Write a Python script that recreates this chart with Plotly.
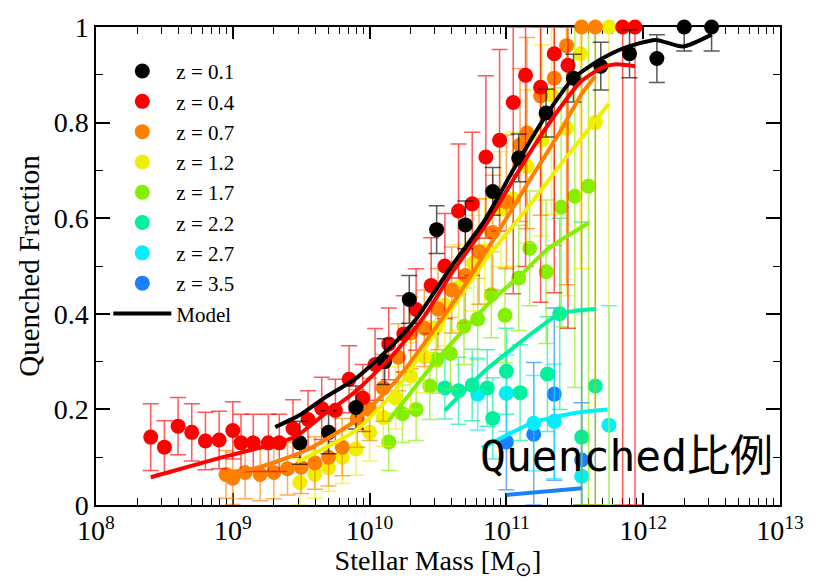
import plotly.graph_objects as go

# ---------------- data (log10 stellar mass, quenched fraction, error) ----------------
z_labels = ["z = 0.1", "z = 0.4", "z = 0.7", "z = 1.2", "z = 1.7", "z = 2.2", "z = 2.7", "z = 3.5"]
colors = ["#000000", "#ff0000", "#ff7f00", "#eef000", "#84f000", "#00f0a0", "#00f0ff", "#1a80ff"]

m_z01 = [9.49, 9.70, 9.90, 10.11, 10.29, 10.49, 10.70, 10.90, 11.09, 11.29, 11.49, 11.69, 11.90, 12.10, 12.30, 12.50]
f_z01 = [0.130, 0.152, 0.204, 0.300, 0.430, 0.576, 0.586, 0.656, 0.726, 0.820, 0.893, 0.918, 0.944, 0.934, 1.0, 1.0]
e_z01 = [0.045, 0.045, 0.045, 0.048, 0.05, 0.05, 0.05, 0.05, 0.05, 0.05, 0.05, 0.05, 0.05, 0.05, 0.05, 0.05]

m_z04 = [8.40, 8.50, 8.60, 8.70, 8.80, 8.90, 9.00, 9.06, 9.15, 9.26, 9.34, 9.44, 9.55, 9.65, 9.75, 9.85, 9.95,
         10.04, 10.14, 10.25, 10.34, 10.45, 10.55, 10.65, 10.75, 10.85, 10.95, 11.05, 11.14, 11.25, 11.35, 11.45,
         11.85, 11.94]
f_z04 = [0.142, 0.121, 0.165, 0.152, 0.134, 0.136, 0.156, 0.130, 0.130, 0.130, 0.130, 0.160, 0.179, 0.202, 0.198,
         0.263, 0.224, 0.294, 0.337, 0.358, 0.409, 0.459, 0.500, 0.615, 0.630, 0.728, 0.763, 0.842, 0.899, 0.874,
         0.944, 0.920, 1.0, 1.0]
e_z04 = [0.07, 0.055, 0.06, 0.06, 0.06, 0.06, 0.06, 0.06, 0.06, 0.06, 0.06, 0.06, 0.06, 0.065, 0.065, 0.07, 0.07,
         0.075, 0.075, 0.08, 0.085, 0.10, 0.11, 0.14, 0.15, 0.17, 0.19, 0.40, 0.40, 0.45, 0.5, 0.55, 1.0, 1.0]

m_z07 = [8.95, 9.00, 9.09, 9.20, 9.30, 9.40, 9.50, 9.60, 9.70, 9.80, 9.91, 10.00, 10.10, 10.21, 10.30, 10.40,
         10.50, 10.60, 10.70, 10.80, 10.90, 11.00, 11.10, 11.15, 11.25, 11.35, 11.44, 11.55, 11.65]
f_z07 = [0.064, 0.056, 0.068, 0.064, 0.068, 0.076, 0.079, 0.088, 0.100, 0.121, 0.181, 0.200, 0.245, 0.309, 0.360,
         0.370, 0.410, 0.450, 0.480, 0.530, 0.570, 0.634, 0.753, 0.778, 0.856, 0.893, 0.961, 1.0, 1.0]
e_z07 = [0.05, 0.055, 0.055, 0.055, 0.055, 0.055, 0.055, 0.055, 0.06, 0.06, 0.06, 0.065, 0.07, 0.07, 0.075, 0.08,
         0.085, 0.09, 0.1, 0.11, 0.12, 0.14, 0.16, 0.2, 0.25, 0.35, 0.5, 1.0, 1.0]

m_z12 = [9.49, 9.60, 9.70, 9.80, 9.90, 10.00, 10.10, 10.19, 10.30, 10.40, 10.48, 10.55, 10.65, 10.76, 10.84,
         10.96, 11.05, 11.15, 11.26, 11.33, 11.44, 11.54, 11.65, 11.75]
f_z12 = [0.047, 0.064, 0.078, 0.100, 0.117, 0.152, 0.183, 0.224, 0.270, 0.310, 0.370, 0.418, 0.455, 0.506, 0.531,
         0.619, 0.640, 0.708, 0.763, 0.858, 0.788, 0.944, 0.800, 1.0]
e_z12 = [0.05, 0.05, 0.05, 0.055, 0.055, 0.06, 0.06, 0.065, 0.07, 0.075, 0.08, 0.085, 0.09, 0.1, 0.11, 0.12,
         0.14, 0.16, 0.2, 0.25, 0.35, 0.45, 0.6, 1.0]

m_z17 = [10.14, 10.24, 10.34, 10.44, 10.49, 10.59, 10.69, 10.79, 10.89, 10.99, 11.09, 11.17, 11.29, 11.40, 11.50, 11.60]
f_z17 = [0.132, 0.191, 0.200, 0.249, 0.304, 0.317, 0.374, 0.389, 0.440, 0.397, 0.475, 0.537, 0.488, 0.623, 0.646, 0.667]
e_z17 = [0.06, 0.06, 0.065, 0.07, 0.07, 0.075, 0.08, 0.085, 0.09, 0.1, 0.11, 0.12, 0.15, 0.25, 0.4, 0.7]

m_z22 = [10.55, 10.65, 10.75, 10.86, 10.90, 11.00, 11.10, 11.30, 11.39, 11.55, 11.65]
f_z22 = [0.245, 0.239, 0.251, 0.245, 0.181, 0.280, 0.235, 0.274, 0.400, 0.142, 0.249]
e_z22 = [0.065, 0.07, 0.075, 0.08, 0.085, 0.09, 0.1, 0.12, 0.2, 0.45, 0.75]

m_z27 = [10.79, 11.00, 11.20, 11.35, 11.55, 11.75]
f_z27 = [0.232, 0.234, 0.171, 0.175, 0.060, 0.167]
e_z27 = [0.075, 0.08, 0.1, 0.12, 0.35, 0.25]

m_z35 = [11.00, 11.20, 11.35, 11.55]
f_z35 = [0.132, 0.148, 0.232, 0.094]
e_z35 = [0.1, 0.15, 0.18, 0.12]

# model curves
mm_z01 = [9.31, 9.50, 9.67, 9.90, 10.17, 10.34, 10.60, 10.84, 11.06, 11.29, 11.49, 11.70, 11.85, 12.09, 12.29, 12.50]
mf_z01 = [0.163, 0.190, 0.224, 0.265, 0.335, 0.389, 0.500, 0.595, 0.706, 0.815, 0.893, 0.934, 0.955, 0.973, 0.959, 0.984]
mm_z04 = [8.40, 8.90, 9.45, 9.67, 9.90, 10.19, 10.40, 10.60, 10.84, 11.06, 11.20, 11.39, 11.54, 11.70, 11.80, 11.94]
mf_z04 = [0.058, 0.098, 0.142, 0.190, 0.238, 0.320, 0.395, 0.485, 0.582, 0.685, 0.750, 0.830, 0.885, 0.915, 0.922, 0.918]
mm_z07 = [8.95, 9.18, 9.54, 9.90, 10.19, 10.43, 10.72, 11.00, 11.15, 11.39, 11.55, 11.65]
mf_z07 = [0.068, 0.078, 0.115, 0.177, 0.259, 0.350, 0.470, 0.600, 0.670, 0.780, 0.860, 0.897]
mm_z12 = [9.47, 9.90, 10.19, 10.48, 10.84, 11.15, 11.39, 11.75]
mf_z12 = [0.090, 0.156, 0.240, 0.360, 0.510, 0.620, 0.710, 0.840]
mm_z17 = [10.14, 10.30, 10.48, 10.70, 10.90, 11.10, 11.30, 11.60]
mf_z17 = [0.177, 0.235, 0.300, 0.370, 0.430, 0.480, 0.535, 0.590]
mm_z22 = [10.55, 10.84, 11.20, 11.39, 11.65]
mf_z22 = [0.198, 0.280, 0.362, 0.400, 0.410]
mm_z27 = [10.82, 11.20, 11.51, 11.74]
mf_z27 = [0.119, 0.173, 0.193, 0.200]
mm_z35 = [11.00, 11.55]
mf_z35 = [0.021, 0.035]

x_tick_exps = [8, 9, 10, 11, 12, 13]
y_tick_vals = [0, 0.2, 0.4, 0.6, 0.8, 1.0]
y_tick_text = ["0", "0.2", "0.4", "0.6", "0.8", "1"]

points = [(m_z01, f_z01, e_z01), (m_z04, f_z04, e_z04), (m_z07, f_z07, e_z07), (m_z12, f_z12, e_z12),
          (m_z17, f_z17, e_z17), (m_z22, f_z22, e_z22), (m_z27, f_z27, e_z27), (m_z35, f_z35, e_z35)]
models = [(mm_z01, mf_z01), (mm_z04, mf_z04), (mm_z07, mf_z07), (mm_z12, mf_z12),
          (mm_z17, mf_z17), (mm_z22, mf_z22), (mm_z27, mf_z27), (mm_z35, mf_z35)]


def rgba(hexc, a):
    h = hexc.lstrip("#")
    r, g, b = int(h[0:2], 16), int(h[2:4], 16), int(h[4:6], 16)
    return f"rgba({r},{g},{b},{a})"


fig = go.Figure()
SERIF = "Liberation Serif"

# points: draw high z first so low-z lie on top
for i in reversed(range(len(points))):
    m, f, e = points[i]
    plus = [min(ei, 1 - fi) for fi, ei in zip(f, e)]
    minus = [min(ei, fi) for fi, ei in zip(f, e)]
    fig.add_trace(go.Scatter(
        x=[10 ** v for v in m], y=f, mode="markers", name=z_labels[i],
        legendrank=i + 1, cliponaxis=False,
        marker=dict(color=colors[i], size=15, line=dict(width=0)),
        error_y=dict(type="data", symmetric=False, array=plus, arrayminus=minus,
                     color=rgba(colors[i], 0.65), thickness=1.5, width=8),
    ))

# model curves
for i in reversed(range(len(models))):
    m, f = models[i]
    fig.add_trace(go.Scatter(
        x=[10 ** v for v in m], y=f, mode="lines", line=dict(color=colors[i], width=4, shape="spline", smoothing=0.6),
        name="Model", showlegend=(i == 0), legendrank=20,
    ))

minor_x = [k * 10 ** e for e in range(8, 13) for k in range(2, 10)]
minor_y = [0.1, 0.3, 0.5, 0.7, 0.9]

fig.update_xaxes(
    type="log", range=[8, 13], showgrid=False, zeroline=False,
    showline=True, linecolor="black", linewidth=1.5, mirror="allticks",
    ticks="inside", ticklen=12, tickwidth=1.5, tickcolor="black",
    tickvals=[10 ** e for e in x_tick_exps], ticktext=[f"10<sup>{e}</sup>" for e in x_tick_exps],
    tickfont=dict(family=SERIF, size=28, color="black"),
    minor=dict(tickvals=minor_x, ticks="inside", ticklen=7, tickwidth=1.2, tickcolor="black", showgrid=False),
    title=dict(text="Stellar Mass [M<sub>⊙</sub>]", font=dict(family=SERIF, size=28, color="black"), standoff=2),
    layer="below traces",
)
fig.update_yaxes(
    range=[0, 1], showgrid=False, zeroline=False,
    showline=True, linecolor="black", linewidth=1.5, mirror="allticks",
    ticks="inside", ticklen=14, tickwidth=1.5, tickcolor="black",
    tickvals=y_tick_vals, ticktext=y_tick_text,
    tickfont=dict(family=SERIF, size=28, color="black"),
    minor=dict(tickvals=minor_y, ticks="inside", ticklen=7, tickwidth=1.2, tickcolor="black", showgrid=False),
    title=dict(text="Quenched Fraction", font=dict(family=SERIF, size=29, color="black"), standoff=6),
    layer="below traces",
)

fig.update_layout(
    width=816, height=580,
    margin=dict(l=96, r=26, t=19, b=74),
    paper_bgcolor="white", plot_bgcolor="white",
    showlegend=True,
    legend=dict(x=0.018, y=0.95, xanchor="left", yanchor="top", bgcolor="rgba(0,0,0,0)",
                font=dict(family=SERIF, size=21, color="black"), itemwidth=58, traceorder="normal"),
    annotations=[dict(text="Quenched比例", xref="paper", yref="paper",
                      x=(634 - 96) / 694, y=(506 - 456) / 487, xanchor="center", yanchor="middle",
                      showarrow=False,
                      font=dict(family="DejaVu Sans Mono, Noto Sans CJK JP", size=43, color="black"))],
)

fig.write_html("out.html")
